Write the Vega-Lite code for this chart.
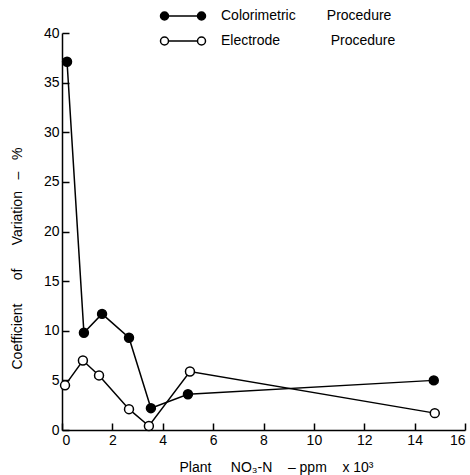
{
  "$schema": "https://vega.github.io/schema/vega-lite/v6.json",
  "width": 403,
  "height": 397,
  "autosize": {"type": "none"},
  "padding": {"left": 62, "top": 33, "right": 5, "bottom": 45},
  "background": "white",
  "config": {
    "view": {"stroke": null},
    "font": "Liberation Sans",
    "axis": {"domainColor": "black", "domainWidth": 1.5, "tickColor": "black", "tickWidth": 1.5, "labelColor": "black", "titleColor": "black", "grid": false, "labelFont": "Liberation Sans", "titleFont": "Liberation Sans", "labelFontSize": 14, "titleFontSize": 14, "titleFontWeight": "normal"}
  },
  "data": {
    "values": [
      {"series": "Colorimetric", "x": 0.2, "y": 37.1},
      {"series": "Colorimetric", "x": 0.87, "y": 9.8},
      {"series": "Colorimetric", "x": 1.59, "y": 11.7},
      {"series": "Colorimetric", "x": 2.66, "y": 9.3},
      {"series": "Colorimetric", "x": 3.53, "y": 2.2},
      {"series": "Colorimetric", "x": 5.0, "y": 3.6},
      {"series": "Colorimetric", "x": 14.76, "y": 5.0},
      {"series": "Electrode", "x": 0.12, "y": 4.5},
      {"series": "Electrode", "x": 0.83, "y": 7.0},
      {"series": "Electrode", "x": 1.47, "y": 5.5},
      {"series": "Electrode", "x": 2.66, "y": 2.1},
      {"series": "Electrode", "x": 3.45, "y": 0.4},
      {"series": "Electrode", "x": 5.08, "y": 5.9},
      {"series": "Electrode", "x": 14.8, "y": 1.7}
    ]
  },
  "encoding": {
    "x": {"field": "x", "type": "quantitative", "scale": {"domain": [0, 16], "nice": false},
      "axis": {"values": [0, 2, 4, 6, 8, 10, 12, 14, 16], "tickSize": -7, "labelPadding": 10, "title": "Plant\u00a0\u00a0\u00a0\u00a0\u00a0NO\u2083-N\u00a0\u00a0\u00a0\u00a0\u2013\u00a0ppm\u00a0\u00a0\u00a0\u00a0x\u00a010\u00b3", "titleX": 214, "titlePadding": 13}},
    "y": {"field": "y", "type": "quantitative", "scale": {"domain": [0, 40], "nice": false},
      "axis": {"values": [0, 5, 10, 15, 20, 25, 30, 35, 40], "tickSize": -7, "labelPadding": 10, "title": "Coefficient\u00a0\u00a0\u00a0\u00a0\u00a0\u00a0of\u00a0\u00a0\u00a0\u00a0\u00a0\u00a0Variation\u00a0\u00a0\u00a0\u2013\u00a0\u00a0\u00a0%", "titlePadding": 19, "titleY": 225}}
  },
  "layer": [
    {
      "mark": {"type": "line", "color": "black", "strokeWidth": 1.5},
      "encoding": {"detail": {"field": "series"}}
    },
    {
      "mark": {"type": "point", "shape": "circle", "stroke": "black", "strokeWidth": 1.5, "size": 80, "opacity": 1},
      "encoding": {
        "fill": {"field": "series", "type": "nominal",
          "scale": {"domain": ["Colorimetric", "Electrode"], "range": ["black", "white"]},
          "legend": {
            "orient": "none", "legendX": 110, "legendY": -28, "title": null,
            "symbolType": "M -2.25,0 A 0.4,0.4 0 1,1 -1.45,0 A 0.4,0.4 0 1,1 -2.25,0 Z M -1.45,0 L 1.45,0 M 1.45,0 A 0.4,0.4 0 1,1 2.25,0 A 0.4,0.4 0 1,1 1.45,0 Z",
            "symbolSize": 400, "symbolStrokeColor": "black", "symbolStrokeWidth": 1.5,
            "labelFontSize": 14, "labelColor": "black", "labelFont": "Liberation Sans", "rowPadding": 7, "labelOffset": 27, "labelLimit": 400,
            "labelExpr": "datum.label == 'Colorimetric' ? 'Colorimetric\u00a0\u00a0\u00a0\u00a0\u00a0\u00a0\u00a0\u00a0Procedure' : 'Electrode\u00a0\u00a0\u00a0\u00a0\u00a0\u00a0\u00a0\u00a0\u00a0\u00a0\u00a0\u00a0\u00a0Procedure'"
          }
        }
      }
    }
  ]
}
